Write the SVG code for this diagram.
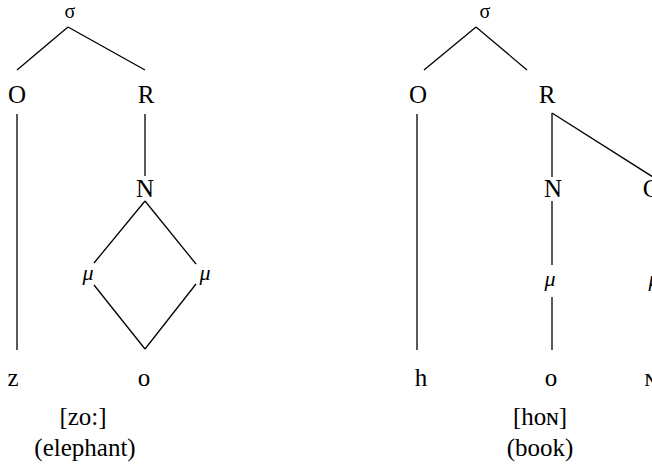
<svg xmlns="http://www.w3.org/2000/svg" width="652" height="469" viewBox="0 0 652 469">
  <style>
    text { font-family: "Liberation Serif", "Times New Roman", "DejaVu Serif", serif; fill: #000; text-anchor: middle; }
    .lbl { font-size: 25px; }
    .syl { font-size: 20px; }
    .mora { font-style: italic; font-size: 22px; }
    .edge { stroke: #000; stroke-width: 1.3; fill: none; stroke-linecap: butt; }
  </style>
  <rect width="652" height="469" fill="#fff"/>

  <!-- connectors -->
  <g id="connectors" class="edge">
    <!-- zo: (elephant) -->
    <line x1="68" y1="27" x2="17" y2="70"/>
    <line x1="68" y1="27" x2="145" y2="70"/>
    <line x1="17" y1="114" x2="17" y2="350"/>
    <line x1="145" y1="114" x2="145" y2="176"/>
    <line x1="145" y1="201" x2="94" y2="263"/>
    <line x1="145" y1="201" x2="196" y2="264"/>
    <line x1="94" y1="285" x2="145" y2="349"/>
    <line x1="196" y1="284" x2="145" y2="349"/>
    <!-- hoN (book) -->
    <line x1="476" y1="27" x2="424" y2="70"/>
    <line x1="476" y1="27" x2="527" y2="70"/>
    <line x1="417" y1="114" x2="417" y2="350"/>
    <line x1="552" y1="113" x2="552" y2="177"/>
    <line x1="552" y1="113" x2="653" y2="177"/>
    <line x1="552" y1="201" x2="552" y2="265"/>
    <line x1="552" y1="297" x2="552" y2="350"/>
  </g>

  <!-- left tree -->
  <g id="t1-sigma"><text class="syl" x="70" y="18">σ</text></g>
  <g id="t1-onset"><text class="lbl" x="17" y="103">O</text></g>
  <g id="t1-rhyme"><text class="lbl" x="146" y="103">R</text></g>
  <g id="t1-nucleus"><text class="lbl" x="145" y="197">N</text></g>
  <g id="t1-mora1"><text class="mora" x="88" y="280">μ</text></g>
  <g id="t1-mora2"><text class="mora" x="205" y="280">μ</text></g>
  <g id="t1-z"><text class="lbl" x="13" y="386">z</text></g>
  <g id="t1-o"><text class="lbl" x="144" y="386">o</text></g>
  <g id="t1-gloss">
    <text class="lbl" x="83" y="425">[zo:]</text>
    <text class="lbl" x="85" y="456">(elephant)</text>
  </g>

  <!-- right tree -->
  <g id="t2-sigma"><text class="syl" x="485" y="18">σ</text></g>
  <g id="t2-onset"><text class="lbl" x="418" y="103">O</text></g>
  <g id="t2-rhyme"><text class="lbl" x="547" y="103">R</text></g>
  <g id="t2-nucleus"><text class="lbl" x="553" y="197">N</text></g>
  <g id="t2-coda"><text class="lbl" x="651" y="197">C</text></g>
  <g id="t2-mora1"><text class="mora" x="550" y="286">μ</text></g>
  <g id="t2-mora2"><text class="mora" x="654" y="286">μ</text></g>
  <g id="t2-h"><text class="lbl" x="421" y="386">h</text></g>
  <g id="t2-o"><text class="lbl" x="551" y="386">o</text></g>
  <g id="t2-N"><text class="lbl" x="651" y="386">ɴ</text></g>
  <g id="t2-gloss">
    <text class="lbl" x="540" y="425">[hoɴ]</text>
    <text class="lbl" x="540" y="456">(book)</text>
  </g>
</svg>
